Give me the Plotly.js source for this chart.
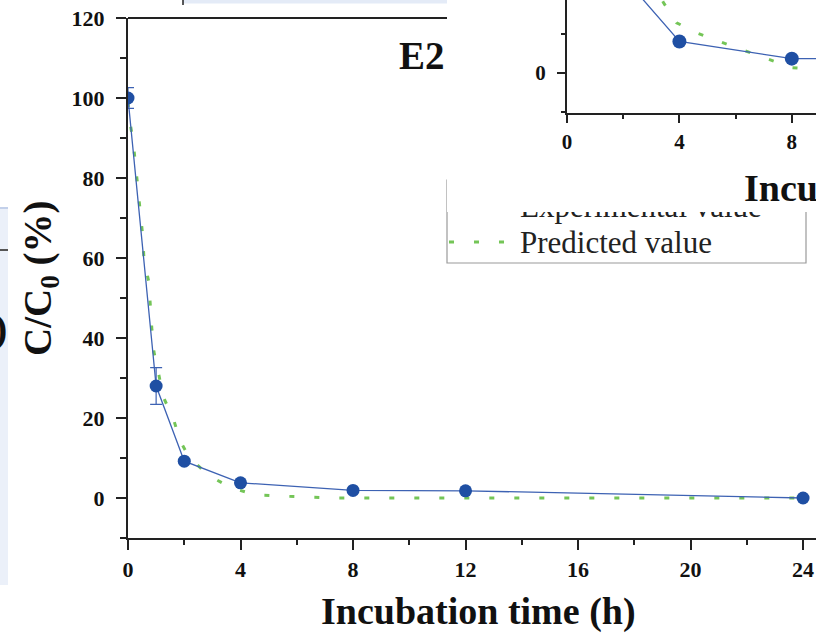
<!DOCTYPE html>
<html>
<head>
<meta charset="utf-8">
<script src="https://cdn.plot.ly/plotly-3.0.1.min.js"></script>
<style>html,body{margin:0;padding:0;background:#fff;}#chart{width:816px;height:636px;}</style>
</head>
<body>
<div id="chart"></div>
<script>
// ---- data ----
const expT = [0, 1, 2, 4, 8, 12, 24];
const expV = [100, 28, 9.2, 3.8, 1.9, 1.8, 0];
const expErr = [2.6, 4.6, 0, 0, 0, 0, 0];

const predT = [0, 0.07, 0.19, 0.28, 0.37, 0.45, 0.52, 0.57, 0.74, 0.85, 0.92, 1.1, 1.25, 1.61, 1.85, 2.2, 2.9, 3.63, 4.52, 5.4, 6.3, 7.2, 12, 16, 20, 24];
const predV = [99, 94, 88.7, 82.8, 77, 71, 65.7, 59.5, 54, 42, 36.6, 30.7, 25.3, 19.9, 14.3, 9.9, 5.5, 2.7, 0.75, 0.5, 0.2, 0, 0, 0, 0, 0];

const insetExpT = [0, 1, 2, 4, 8, 12, 24];
const insetExpV = [100, 28, 12.3, 4.0, 1.8, 1.8, 0];
const insetPredT = [3, 3.43, 3.9, 4.66, 5.45, 6.33, 7.13, 8, 8.82, 12, 24];
const insetPredV = [12, 9.0, 6.4, 5.05, 3.97, 2.82, 1.72, 0.64, 0.43, 0.3, 0];

const mainXTicks = [0, 4, 8, 12, 16, 20, 24];
const mainYTicks = [0, 20, 40, 60, 80, 100, 120];
const insetXTicks = [0, 4, 8];
const insetYTicks = [0];

const legendLabels = ['Experimental value', 'Predicted value'];
const xTitle = 'Incubation time (h)';
const yTitle = 'C/C<sub>0</sub> (%)';
const panelLabel = 'E2';

// ---- styling ----
const BLUE = '#1f4fa3';
const LINEBLUE = '#3d62b3';
const GREEN = '#74c557';
const SERIF = 'Liberation Serif, Times New Roman, serif';

// pixel -> paper helpers (plot area: x 128..816, y 0..538)
const L = 128, W = 688, B = 538, H = 538;
const PX = x => (x - L) / W;
const PY = y => (B - y) / H;

const traces = [
  {x: predT, y: predV, xaxis: 'x', yaxis: 'y', mode: 'lines', showlegend: false,
   line: {color: GREEN, width: 3, dash: '5px,20px'}, hoverinfo: 'skip'},
  {x: expT, y: expV, xaxis: 'x', yaxis: 'y', mode: 'lines+markers', showlegend: false,
   line: {color: LINEBLUE, width: 1.3}, marker: {color: BLUE, size: 13},
   error_y: {type: 'data', array: expErr, visible: true, color: LINEBLUE, thickness: 1.2, width: 6}},
  {x: insetPredT, y: insetPredV, xaxis: 'x2', yaxis: 'y2', mode: 'lines', showlegend: false,
   line: {color: GREEN, width: 3, dash: '5px,20px'}, hoverinfo: 'skip'},
  {x: insetExpT, y: insetExpV, xaxis: 'x2', yaxis: 'y2', mode: 'lines+markers', showlegend: false,
   line: {color: LINEBLUE, width: 1.3}, marker: {color: BLUE, size: 14}}
];

const tickFont = {family: SERIF, size: 22, color: '#111', weight: 'bold'};
const insetTickFont = {family: SERIF, size: 21, color: '#111', weight: 'bold'};

const layout = {
  width: 816, height: 636,
  margin: {l: L, r: 0, t: 0, b: 98, pad: 0},
  paper_bgcolor: '#fff', plot_bgcolor: '#fff',
  showlegend: false,
  xaxis: {domain: [0, 1], range: [0, 24.46], tickvals: mainXTicks, ticktext: mainXTicks.map(String),
    showgrid: false, zeroline: false, showline: true, linecolor: '#222', linewidth: 2,
    ticks: 'outside', ticklen: 10, tickwidth: 2, tickcolor: '#222', ticklabelstandoff: 1,
    tickfont: tickFont,
    minor: {dtick: 2, tick0: 0, ticks: 'outside', ticklen: 5, tickwidth: 2, tickcolor: '#222', showgrid: false},
    anchor: 'y'},
  yaxis: {domain: [0, PY(18)], range: [-10, 120], tickvals: mainYTicks, ticktext: mainYTicks.map(String),
    showgrid: false, zeroline: false, showline: true, linecolor: '#222', linewidth: 2,
    ticks: 'outside', ticklen: 10, tickwidth: 2, tickcolor: '#222', ticklabelstandoff: 7,
    tickfont: tickFont,
    minor: {dtick: 10, tick0: 0, ticks: 'outside', ticklen: 6, tickwidth: 2, tickcolor: '#222', showgrid: false},
    anchor: 'x'},
  xaxis2: {domain: [PX(567), 1], range: [0, 8.86], tickvals: insetXTicks, ticktext: insetXTicks.map(String),
    showgrid: false, zeroline: false, showline: true, linecolor: '#222', linewidth: 2,
    ticks: 'outside', ticklen: 8, tickwidth: 2, tickcolor: '#222', ticklabelstandoff: 1,
    tickfont: insetTickFont,
    minor: {dtick: 2, tick0: 0, ticks: 'outside', ticklen: 4, tickwidth: 2, tickcolor: '#222', showgrid: false},
    anchor: 'y2'},
  yaxis2: {domain: [PY(113), 1], range: [-5.17, 9.32], tickvals: insetYTicks, ticktext: insetYTicks.map(String),
    showgrid: false, zeroline: false, showline: true, linecolor: '#222', linewidth: 2,
    ticks: 'outside', ticklen: 8, tickwidth: 2, tickcolor: '#222', ticklabelstandoff: 7,
    tickfont: insetTickFont,
    minor: {dtick: 5, tick0: 0, ticks: 'outside', ticklen: 4, tickwidth: 2, tickcolor: '#222', showgrid: false},
    anchor: 'x2'},
  shapes: [
    // top frame of the main plot (rest hidden behind inset)
    {type: 'line', xref: 'paper', yref: 'paper', x0: 0, x1: PX(447), y0: PY(18), y1: PY(18),
     line: {color: '#222', width: 2}},
    // fragments of neighbouring panels
    {type: 'rect', xref: 'paper', yref: 'paper', x0: PX(183), x1: PX(447), y0: PY(0), y1: PY(3.5),
     fillcolor: '#e4ebf7', line: {width: 0}},
    {type: 'line', xref: 'paper', yref: 'paper', x0: PX(183), x1: PX(183), y0: PY(0), y1: PY(5),
     line: {color: '#222', width: 1.5}},
    {type: 'rect', xref: 'paper', yref: 'paper', x0: PX(0), x1: PX(8), y0: PY(208), y1: PY(585),
     fillcolor: '#ebf0f9', line: {width: 0}},
    {type: 'line', xref: 'paper', yref: 'paper', x0: PX(0), x1: PX(8), y0: PY(208), y1: PY(208),
     line: {color: '#c3d0ea', width: 2}},
    {type: 'line', xref: 'paper', yref: 'paper', x0: PX(0), x1: PX(8), y0: PY(250), y1: PY(250),
     line: {color: '#555', width: 2}},
    // legend box of the main plot
    {type: 'rect', xref: 'paper', yref: 'paper', x0: PX(447), x1: PX(806), y0: PY(180), y1: PY(263),
     line: {color: '#9a9a9a', width: 1.2}, fillcolor: 'rgba(0,0,0,0)'},
    {type: 'line', xref: 'paper', yref: 'paper', x0: PX(449), x1: PX(508), y0: PY(242), y1: PY(242),
     line: {color: GREEN, width: 3, dash: '5px,20px'}},
    {type: 'line', xref: 'paper', yref: 'paper', x0: PX(452), x1: PX(505), y0: PY(209), y1: PY(209),
     line: {color: LINEBLUE, width: 1.3}}
  ],
  annotations: [
    {text: '<b>' + panelLabel + '</b>', xref: 'paper', yref: 'paper', x: PX(397), y: PY(55),
     xanchor: 'left', yanchor: 'middle', showarrow: false, font: {family: SERIF, size: 39, color: '#111'}},
    {text: '<b>' + xTitle + '</b>', xref: 'paper', yref: 'paper', x: PX(478), y: PY(612),
     xanchor: 'center', yanchor: 'middle', showarrow: false, font: {family: SERIF, size: 38, color: '#111'}},
    {text: '<b>' + yTitle + '</b>', xref: 'paper', yref: 'paper', x: PX(40), y: PY(278),
     xanchor: 'center', yanchor: 'middle', textangle: -90, showarrow: false, font: {family: SERIF, size: 39, color: '#111'}},
    {text: '<b>10</b>', xref: 'paper', yref: 'paper', x: PX(547), y: PY(-7),
     xanchor: 'right', yanchor: 'middle', showarrow: false, font: {family: SERIF, size: 21, color: '#111'}},
    {text: legendLabels[0], xref: 'paper', yref: 'paper', x: PX(518), y: PY(207),
     xanchor: 'left', yanchor: 'middle', showarrow: false, font: {family: SERIF, size: 31, color: '#222'}},
    {text: legendLabels[1], xref: 'paper', yref: 'paper', x: PX(518), y: PY(242),
     xanchor: 'left', yanchor: 'middle', showarrow: false, font: {family: SERIF, size: 31, color: '#222'}},
    // white area of the inset panel that hides the top of the legend
    {text: '\u00a0', xref: 'paper', yref: 'paper', x: PX(447), y: PY(184),
     xanchor: 'left', yanchor: 'middle', width: 369, height: 55, borderpad: 0, borderwidth: 0,
     bgcolor: '#fff', showarrow: false, font: {size: 10}},
    {text: '<b>' + xTitle + '</b>', xref: 'paper', yref: 'paper', x: PX(742), y: PY(188),
     xanchor: 'left', yanchor: 'middle', showarrow: false, font: {family: SERIF, size: 38, color: '#111'}},
    {text: '<b>)</b>', xref: 'paper', yref: 'paper', x: PX(9), y: PY(328),
     xanchor: 'right', yanchor: 'middle', showarrow: false, font: {family: SERIF, size: 40, color: '#111'}}
  ]
};

Plotly.newPlot('chart', traces, layout, {displayModeBar: false, staticPlot: true});
</script>
</body>
</html>
